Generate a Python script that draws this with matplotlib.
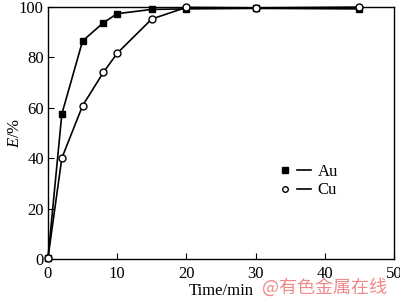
import matplotlib
matplotlib.use("Agg")
import matplotlib.pyplot as plt
from matplotlib.lines import Line2D
from matplotlib.legend_handler import HandlerTuple

time = [0, 2, 5, 8, 10, 15, 20, 30, 45]
au = [0.5, 57.5, 86.5, 93.7, 97.3, 99.0, 99.2, 99.4, 99.2]
cu = [0.5, 40, 60.8, 74, 81.6, 95.2, 99.8, 99.6, 99.9]

plt.rcParams['font.family'] = ['Liberation Serif', 'DejaVu Serif']
plt.rcParams['font.size'] = 12
plt.rcParams['mathtext.fontset'] = 'custom'
plt.rcParams['mathtext.it'] = 'Liberation Serif:italic'
plt.rcParams['mathtext.rm'] = 'Liberation Serif'

fig = plt.figure(figsize=(4.0, 2.99), dpi=100)
ax = fig.add_axes([0.12, 0.134, 0.865, 0.843])

ax.plot(time, au, color='black', lw=1.2, marker='s', ms=5,
        mfc='black', mec='black', clip_on=False, zorder=3)
ax.plot(time, cu, color='black', lw=1.2, marker='o', ms=5,
        mfc='white', mec='black', clip_on=False, zorder=3)

ax.set_xlim(0, 50)
ax.set_ylim(0, 100)
ax.set_xticks([0, 10, 20, 30, 40, 50])
ax.set_yticks([0, 20, 40, 60, 80, 100])
ax.tick_params(direction='in', length=4, width=0.8, top=False, right=False)
ax.tick_params(axis='x', pad=5)
ax.tick_params(axis='y', pad=3)
for s in ax.spines.values():
    s.set_linewidth(1.0)

ax.set_xlabel('Time/min', labelpad=1)
ax.set_ylabel(r'$\it{E}$/%')
ax.yaxis.set_label_coords(-0.072, 0.5)

h_au = (Line2D([], [], ls='none', marker='s', ms=4, mfc='black', mec='black'),
        Line2D([], [], color='black', lw=1.2))
h_cu = (Line2D([], [], ls='none', marker='o', ms=4, mfc='white', mec='black'),
        Line2D([], [], color='black', lw=1.2))
ax.legend([h_au, h_cu], ['Au', 'Cu'], handler_map={tuple: HandlerTuple(ndivide=None, pad=0.3)},
          loc='upper left', bbox_to_anchor=(0.64, 0.41), frameon=False,
          handlelength=2.0, handletextpad=0.4, labelspacing=0.15, borderpad=0)

fig.text(0.655, 0.04, '@有色金属在线', color='#f08a8a', fontsize=13,
         family=['Noto Sans CJK SC', 'DejaVu Sans'], va='center')

fig.savefig('out.png', dpi=100)
